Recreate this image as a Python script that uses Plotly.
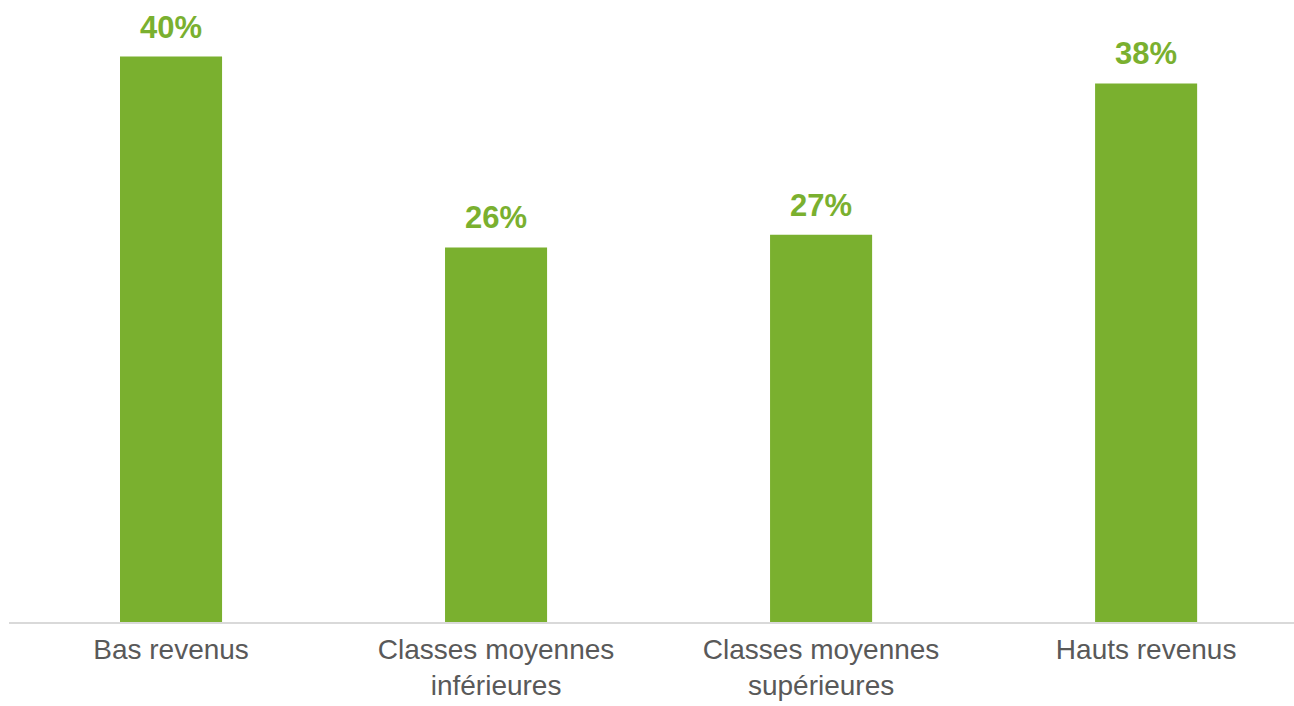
import plotly.graph_objects as go

categories = ["Bas revenus", "Classes moyennes<br>inférieures", "Classes moyennes<br>supérieures", "Hauts revenus"]
values = [40.0, 26.5, 27.4, 38.1]
labels = ["40%", "26%", "27%", "38%"]

green = "#7AB02F"
font_family = "Arial, Liberation Sans, sans-serif"

fig = go.Figure()
fig.add_trace(go.Bar(
    x=list(range(len(categories))),
    y=values,
    marker=dict(color=green, line=dict(width=0)),
    width=0.314,
    hoverinfo="skip",
))

for i, (v, lab) in enumerate(zip(values, labels)):
    fig.add_annotation(
        x=i, y=v, text="<b>" + lab + "</b>", showarrow=False,
        yanchor="bottom", yshift=10,
        font=dict(family=font_family, size=31, color=green),
    )

fig.update_layout(
    width=1294, height=706,
    margin=dict(l=9, r=0, t=0, b=84),
    paper_bgcolor="white", plot_bgcolor="white",
    showlegend=False,
    xaxis=dict(
        tickmode="array",
        tickvals=list(range(len(categories))),
        ticktext=categories,
        range=[-0.4985, 3.455],
        showline=True, linecolor="#D9D9D9", linewidth=2,
        showgrid=False, zeroline=False, ticks="",
        tickfont=dict(family=font_family, size=28, color="#595959"),
        ticklabelstandoff=1,
        automargin=False,
    ),
    yaxis=dict(
        range=[0, 44], visible=False, showgrid=False, zeroline=False,
        automargin=False,
    ),
)

fig.write_html(
    "out.html",
    config={"displayModeBar": False},
    post_script="document.body.style.margin='0';document.body.style.overflow='hidden';",
)
